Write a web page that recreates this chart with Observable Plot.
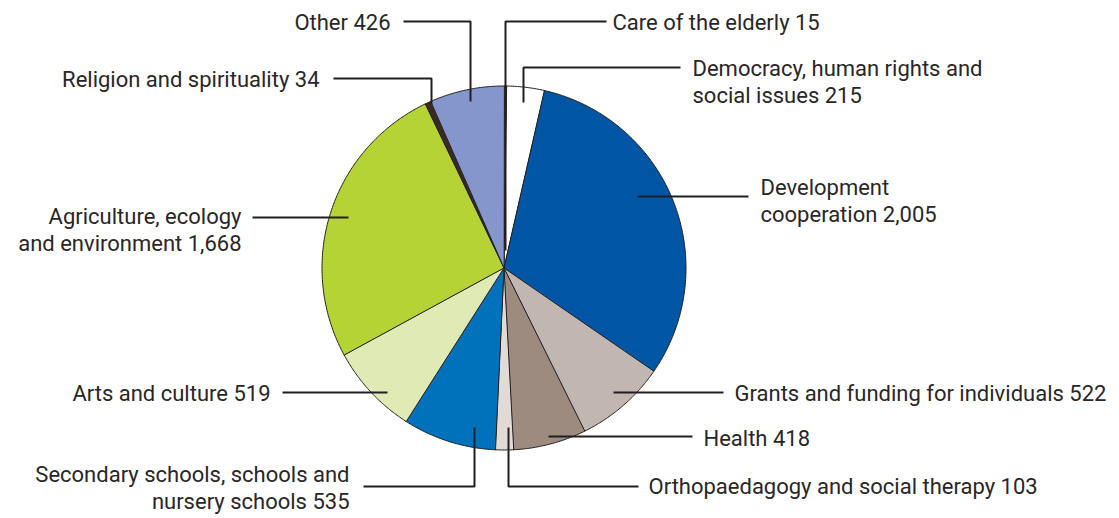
<!DOCTYPE html>
<html>
<head>
<meta charset="utf-8">
<script src="https://cdn.jsdelivr.net/npm/d3@7"></script>
<script src="https://cdn.jsdelivr.net/npm/@observablehq/plot@0.6"></script>
<style>
  html, body { margin: 0; padding: 0; background: #ffffff; }
  #chart { width: 1119px; height: 518px; }
</style>
</head>
<body>
<div id="chart"></div>
<script>
// ---- data ----
const categories = [
  "Care of the elderly",
  "Democracy, human rights and social issues",
  "Development cooperation",
  "Grants and funding for individuals",
  "Health",
  "Orthopaedagogy and social therapy",
  "Secondary schools, schools and nursery schools",
  "Arts and culture",
  "Agriculture, ecology and environment",
  "Religion and spirituality",
  "Other"
];
const values = [15, 215, 2005, 522, 418, 103, 535, 519, 1668, 34, 426];
const labelText = [
  "Care of the elderly",
  "Democracy, human rights and\nsocial issues",
  "Development\ncooperation",
  "Grants and funding for individuals",
  "Health",
  "Orthopaedagogy and social therapy",
  "Secondary schools, schools and\nnursery schools",
  "Arts and culture",
  "Agriculture, ecology\nand environment",
  "Religion and spirituality",
  "Other"
];
const colors = ["#ffffff", "#ffffff", "#0055a4", "#c1b6b0", "#9e8b80", "#e2dbd5",
                "#0072bb", "#e0eab4", "#b5d334", "#3b2a20", "#8496cb"];

// ---- layout (pixels) ----
const W = 1119, H = 518;
const cx = 503.5, cy = 267.5, R = 182;
// label anchor and leader polyline per category
const labelLayout = [
  {x: 612, y: 21,    anchor: "start", leader: [[606, 21], [505, 21], [505, 250]]},
  {x: 692, y: 80.5,  anchor: "start", leader: [[680, 67], [523, 67], [523, 102]]},
  {x: 760, y: 199.5, anchor: "start", leader: [[748, 196], [637, 196]]},
  {x: 734, y: 392,   anchor: "start", leader: [[723, 392], [613, 392]]},
  {x: 703, y: 437,   anchor: "start", leader: [[692, 436], [548, 436]]},
  {x: 648, y: 485,   anchor: "start", leader: [[638, 486], [508, 486], [508, 427]]},
  {x: 349, y: 486,   anchor: "end",   leader: [[363, 486], [474, 486], [474, 427]]},
  {x: 270, y: 392,   anchor: "end",   leader: [[282, 392], [387, 392]]},
  {x: 241, y: 228.5, anchor: "end",   leader: [[252, 217], [348, 217]]},
  {x: 319, y: 78,    anchor: "end",   leader: [[333, 78], [431, 78], [431, 103]]},
  {x: 390, y: 21,    anchor: "end",   leader: [[403, 21], [470, 21], [470, 101]]}
];

// ---- build slice polygons from values ----
const table = categories.map((c, i) => ({category: c, value: values[i]}));
const arcs = d3.pie().sort(null).value(d => d.value)(table);
const slicePts = [];
for (const a of arcs) {
  const c = a.data.category;
  slicePts.push({category: c, x: cx, y: cy});
  const n = Math.max(2, Math.ceil((a.endAngle - a.startAngle) / (Math.PI / 360))) + 1;
  for (let k = 0; k < n; k++) {
    const t = a.startAngle + (a.endAngle - a.startAngle) * k / (n - 1);
    slicePts.push({category: c, x: cx + R * Math.sin(t), y: cy - R * Math.cos(t)});
  }
}
const leaderPts = [];
labelLayout.forEach((l, i) => l.leader.forEach(([x, y]) => leaderPts.push({category: categories[i], x, y})));
const fmt = d3.format(",");
const labels = labelLayout.map((l, i) => ({
  x: l.x, y: l.y, anchor: l.anchor,
  text: labelText[i] + " " + fmt(values[i])
}));

const font = "Roboto, 'Noto Sans', sans-serif";
const textOpts = {x: "x", y: "y", text: "text", lineAnchor: "middle", lineHeight: 1.23,
  fontSize: 22, fill: "#2a2627", fontFamily: font};
const plot = Plot.plot({
  width: W, height: H,
  margin: 0,
  style: {fontFamily: font, background: "#ffffff", overflow: "visible"},
  x: {domain: [0, W], range: [0, W], axis: null},
  y: {domain: [0, H], range: [0, H], axis: null},
  color: {domain: categories, range: colors},
  marks: [
    Plot.line(slicePts, {x: "x", y: "y", z: "category", fill: "category",
      stroke: "#231f20", strokeWidth: 1, curve: "linear-closed"}),
    Plot.line(leaderPts, {x: "x", y: "y", z: "category",
      stroke: "#231f20", strokeWidth: 2, strokeLinejoin: "miter", strokeLinecap: "butt"}),
    Plot.text(labels.filter(d => d.anchor === "start"), {...textOpts, textAnchor: "start"}),
    Plot.text(labels.filter(d => d.anchor === "end"), {...textOpts, textAnchor: "end"})
  ]
});
document.getElementById("chart").appendChild(plot);
</script>
</body>
</html>
